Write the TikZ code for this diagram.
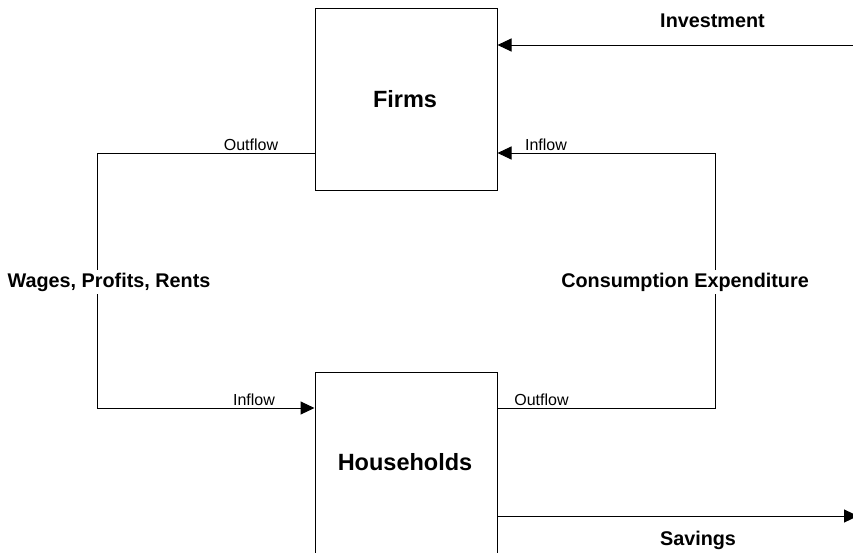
\documentclass[tikz,border=0pt]{standalone}
\usepackage{fontspec}
\setmainfont{Liberation Sans}
\usetikzlibrary{arrows.meta}
\tikzset{
  boxnode/.style={draw, line width=1pt, minimum width=182pt, minimum height=182pt, inner sep=0pt,
    font=\fontsize{23.5}{28}\selectfont\bfseries},
  flow/.style={line width=1pt},
  arr/.style={flow, -{Triangle[length=14pt,width=13pt]}},
  biglabel/.style={font=\fontsize{19.8}{24}\selectfont\bfseries, anchor=base, inner sep=3pt},
  smalllabel/.style={font=\fontsize{16}{19}\selectfont, anchor=base, inner sep=1pt},
}
\begin{document}
\begin{tikzpicture}[x=1pt,y=-1pt]
\useasboundingbox (0,0) rectangle (853,552);
\clip (0,0) rectangle (853,552);
\node[boxnode] (firms) at (406,99) {};
\node[font=\fontsize{23.5}{28}\selectfont\bfseries, anchor=base] (firmslbl) at (405,107) {Firms};
\node[boxnode] (hh) at (406,463) {};
\node[font=\fontsize{23.5}{28}\selectfont\bfseries, anchor=base] (hhlbl) at (405,470) {Households};
\coordinate (L1) at (97,153);
\coordinate (L2) at (97,408);
\coordinate (R1) at (715,153);
\coordinate (R2) at (715,408);
\coordinate (inv) at (853,45);
\coordinate (sav) at (858,516);
% connectors
\draw[arr] (inv) -- (firms.east |- inv);
\draw[arr] (firms.west |- L1) -- (L1) -- (L2) -- (hh.west |- L2);
\draw[arr] (hh.east |- R2) -- (R2) -- (R1) -- (firms.east |- R1);
\draw[arr] (hh.east |- sav) -- (sav);
% labels
\node[biglabel] (linv) at (712.5,27) {Investment};
\node[biglabel] (lsav) at (698,545) {Savings};
\node[biglabel, fill=white] (lwage) at (109,287) {Wages, Profits, Rents};
\node[biglabel, fill=white] (lcons) at (685,287) {Consumption Expenditure};
\node[smalllabel] (o1) at (251,150) {Outflow};
\node[smalllabel] (i1) at (546,150) {Inflow};
\node[smalllabel] (i2) at (254,405) {Inflow};
\node[smalllabel] (o2) at (541.5,405) {Outflow};
\end{tikzpicture}
\end{document}
